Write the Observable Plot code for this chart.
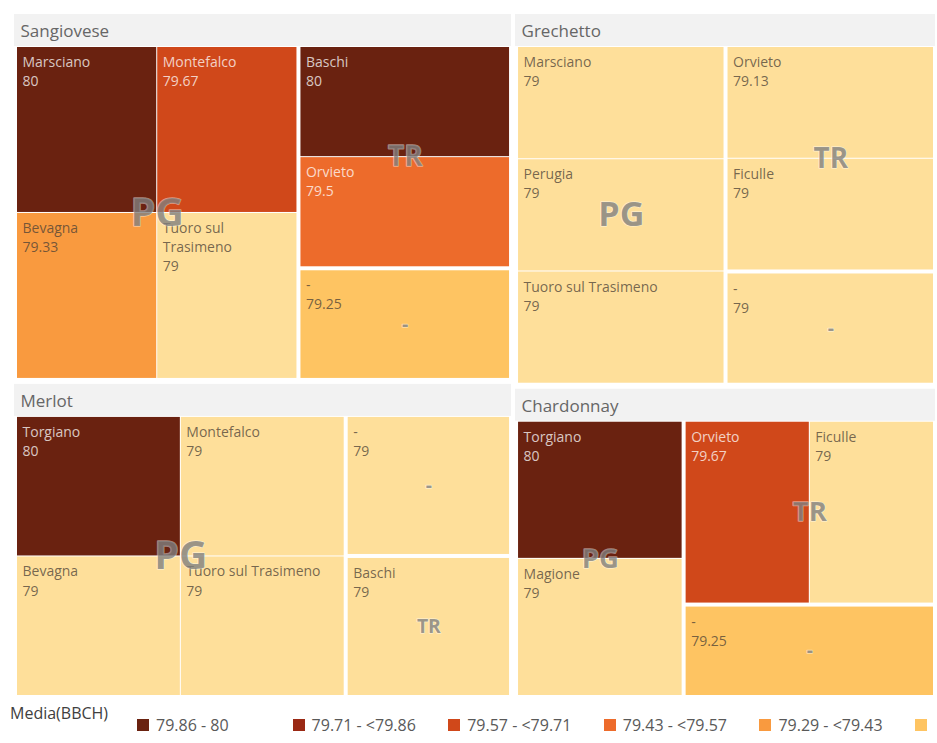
<!DOCTYPE html>
<html><head><meta charset="utf-8">
<script src="https://cdn.jsdelivr.net/npm/d3@7"></script>
<script src="https://cdn.jsdelivr.net/npm/@observablehq/plot@0.6"></script>
<style>
body{margin:0;background:#fff;font-family:"Open Sans",sans-serif;}
#chart svg{display:block;}
#legend{position:relative;width:930px;height:43px;overflow:hidden;white-space:nowrap;color:#595959;}
#legend .title{position:absolute;left:10px;top:2px;font-size:16px;color:#404040;}
#legend .item{position:absolute;top:15px;height:20px;display:flex;align-items:center;font-size:16px;}
#legend .sw{width:12px;height:12px;margin-right:7px;flex:none;}
</style></head><body>
<div id="chart"></div>
<div id="legend"></div>
<script>
// ---- data ----
const variety  = ["Sangiovese","Sangiovese","Sangiovese","Sangiovese","Sangiovese","Sangiovese","Sangiovese",
                  "Merlot","Merlot","Merlot","Merlot","Merlot","Merlot",
                  "Grechetto","Grechetto","Grechetto","Grechetto","Grechetto","Grechetto",
                  "Chardonnay","Chardonnay","Chardonnay","Chardonnay","Chardonnay"];
const province = ["PG","PG","PG","PG","TR","TR","-",
                  "PG","PG","PG","PG","-","TR",
                  "PG","PG","PG","TR","TR","-",
                  "PG","PG","TR","TR","-"];
const town     = ["Marsciano","Montefalco","Bevagna","Tuoro sul Trasimeno","Baschi","Orvieto","-",
                  "Torgiano","Bevagna","Montefalco","Tuoro sul Trasimeno","-","Baschi",
                  "Marsciano","Perugia","Tuoro sul Trasimeno","Orvieto","Ficulle","-",
                  "Torgiano","Magione","Orvieto","Ficulle","-"];
const media    = [80,79.67,79.33,79,80,79.5,79.25,
                  80,79,79,79,79,79,
                  79,79,79,79.13,79,79,
                  80,79,79.67,79,79.25];
const size     = [1,1,1,1,1,1,1, 1,1,1,1,1,1, 1,1,1,1,1,1, 1,1,1,1,1];
const thresholds = [79.14,79.29,79.43,79.57,79.71,79.86];
const colors = ["#fedf9a","#fec462","#f99a3f","#ed6b2b","#d0481a","#9a2914","#6a2210"];
const legendLabels = ["79.86 - 80","79.71 - <79.86","79.57 - <79.71","79.43 - <79.57","79.29 - <79.43","79.14 - <79.29","79 - <79.14"];
const legendTitle = "Media(BBCH)";

// ---- layout ----
const rows = town.map((t,i)=>({variety:variety[i],province:province[i],town:t,media:media[i],size:size[i]}));
const W = 921, H = 683;
const root = d3.hierarchy(d3.group(rows, d=>d.variety, d=>d.province)).sum(d=>d.size||0);
d3.treemap()
  .tile(d3.treemapSquarify.ratio(1))
  .size([W,H])
  .paddingInner(d => d.depth===0 ? 4 : d.depth===1 ? 4 : 1)
  .paddingTop(d => d.depth===1 ? 33 : 0)
  .paddingLeft(d => d.depth===1 ? 3 : 0)
  .paddingRight(d => d.depth===1 ? 2 : 0)
  .paddingBottom(d => d.depth===1 ? 2 : 0)(root);
const groups = root.children;
const provs = root.descendants().filter(d=>d.depth===2);
const leaves = root.leaves();

const LF = 14;
const ctx = document.createElement("canvas").getContext("2d");
ctx.font = `${LF}px "Open Sans"`;
function wrap(str, maxW){
  const words = str.split(" "); const lines=[]; let cur="";
  for(const w of words){ const t = cur ? cur+" "+w : w;
    if(ctx.measureText(t).width > maxW && cur){ lines.push(cur); cur=w; } else cur=t; }
  lines.push(cur); return lines.join("\n");
}
const label = d => wrap(d.data.town, d.x1-d.x0-10) + "\n" + d.data.media;
const dark = d => d.data.media >= 79.43;

const chart = Plot.plot({
  width: 937, height: 700, margin: 0,
  style: {fontFamily: '"Open Sans", sans-serif', background: "transparent"},
  x: {domain:[0,W], range:[14,935], axis:null},
  y: {domain:[0,H], range:[14,697], axis:null},
  color: {type:"threshold", domain: thresholds, range: colors},
  marks: [
    Plot.rect(groups, {x1:d=>d.x0, x2:d=>d.x1, y1:d=>d.y0, y2:d=>d.y0+32, fill:"#f2f2f2"}),
    Plot.text(groups, {x:d=>d.x0+6, y:d=>d.y0+17, text:d=>d.data[0], textAnchor:"start", fontSize:17, fill:"#666666"}),
    Plot.rect(leaves, {x1:d=>d.x0, x2:d=>d.x1, y1:d=>d.y0, y2:d=>d.y1, fill:d=>d.data.media}),
    Plot.text(leaves, {filter:dark, x:d=>d.x0+5, y:d=>d.y0+6, text:label, textAnchor:"start", lineAnchor:"top", lineHeight:1.36, fontSize:LF, fill:"#ffffff", fillOpacity:0.75}),
    Plot.text(leaves, {filter:d=>!dark(d), x:d=>d.x0+5, y:d=>d.y0+6, text:label, textAnchor:"start", lineAnchor:"top", lineHeight:1.36, fontSize:LF, fill:"#4a4035", fillOpacity:0.75}),
    Plot.text(provs, {x:d=>(d.x0+d.x1)/2, y:d=>(d.y0+d.y1)/2, text:d=>d.data[0],
      fontSize:d=>Math.sqrt((d.x1-d.x0)*(d.y1-d.y0))*0.13, fontWeight:"bold",
      fill:"#808080", fillOpacity:0.8, stroke:"#ffffff", strokeOpacity:0.45, strokeWidth:1.5})
  ]
});
document.getElementById("chart").append(chart);

// ---- legend ----
const lg = document.getElementById("legend");
const t = document.createElement("div"); t.className="title"; t.textContent=legendTitle; lg.append(t);
const revColors = colors.slice().reverse();
legendLabels.forEach((lab,i)=>{
  const it = document.createElement("div"); it.className="item"; it.style.left=(137+i*155.6)+"px";
  const sw = document.createElement("span"); sw.className="sw"; sw.style.background=revColors[i];
  const tx = document.createElement("span"); tx.textContent=lab;
  it.append(sw, tx); lg.append(it);
});
</script>
</body></html>
